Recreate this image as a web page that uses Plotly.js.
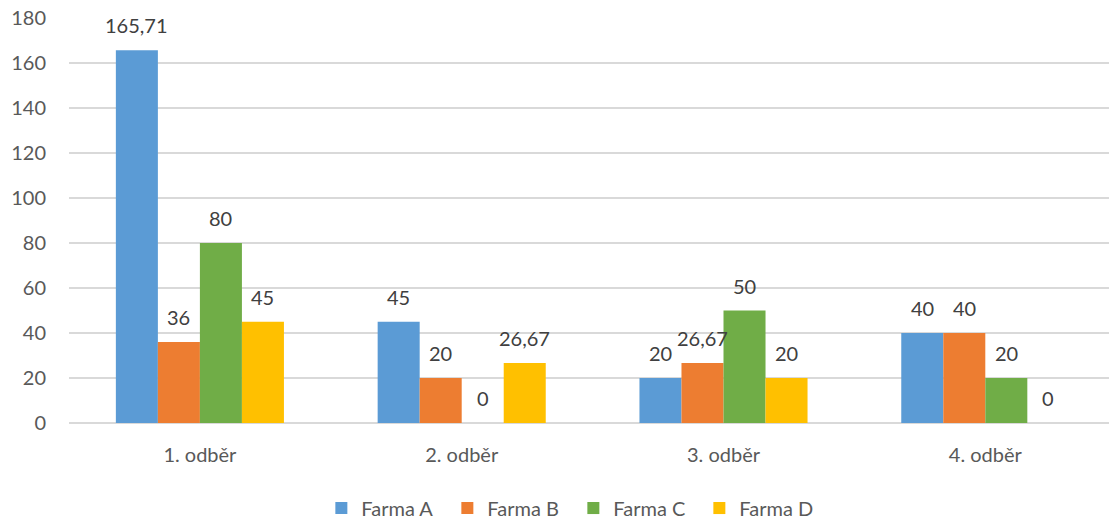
<!DOCTYPE html>
<html>
<head>
<meta charset="utf-8">
<script src="https://cdn.plot.ly/plotly-3.0.1.min.js"></script>
<style>
  html, body { margin: 0; padding: 0; background: #ffffff; }
  #chart { width: 1109px; height: 519px; }
</style>
</head>
<body>
<div id="chart"></div>
<script>
// Sampling rounds (odběry)
const categories = ['1. odběr', '2. odběr', '3. odběr', '4. odběr'];

// Values per farm
const farmaA = [165.71, 45, 20, 40];
const farmaB = [36, 20, 26.67, 40];
const farmaC = [80, 0, 50, 20];
const farmaD = [45, 26.67, 20, 0];

const seriesNames = ['Farma A', 'Farma B', 'Farma C', 'Farma D'];
const seriesValues = [farmaA, farmaB, farmaC, farmaD];
const seriesColors = ['#5B9BD5', '#ED7D31', '#70AD47', '#FFC000'];

const yTicks = [0, 20, 40, 60, 80, 100, 120, 140, 160, 180];

const FONT = 'Lato, "Open Sans", "DejaVu Sans", sans-serif';
const FS = 20;
const BARGAP = 0.358;
const nSeries = seriesValues.length;
const barW = (1 - BARGAP) / nSeries;

const fmt = v => String(Math.round(v * 100) / 100).replace('.', ',');

const traces = seriesValues.map((vals, j) => ({
  type: 'bar',
  name: seriesNames[j],
  x: categories,
  y: vals,
  marker: { color: seriesColors[j], line: { width: 0 } },
  hoverinfo: 'skip'
}));

// Value labels above each bar
const annotations = [];
seriesValues.forEach((vals, j) => {
  vals.forEach((v, i) => {
    annotations.push({
      x: i + (j - (nSeries - 1) / 2) * barW,
      y: v,
      xref: 'x', yref: 'y',
      text: fmt(v),
      showarrow: false,
      yanchor: 'middle',
      yshift: 25,
      font: { family: FONT, size: FS, color: '#404040' }
    });
  });
});

const layout = {
  width: 1109,
  height: 519,
  margin: { l: 69, r: 0, t: 18, b: 96, autoexpand: false },
  paper_bgcolor: '#ffffff',
  plot_bgcolor: '#ffffff',
  barmode: 'group',
  bargap: BARGAP,
  bargroupgap: 0,
  separators: ',.',
  font: { family: FONT, size: FS, color: '#595959' },
  xaxis: {
    type: 'category',
    range: [-0.5, 3.4725],
    showgrid: false,
    zeroline: false,
    showline: false,
    ticks: '',
    tickfont: { family: FONT, size: FS, color: '#595959' },
    ticklabelstandoff: 18,
    fixedrange: true
  },
  yaxis: {
    range: [0, 180],
    tickvals: yTicks,
    ticktext: yTicks.map(String),
    showgrid: true,
    gridcolor: '#D9D9D9',
    gridwidth: 1.5,
    zeroline: true,
    zerolinecolor: '#D9D9D9',
    zerolinewidth: 1.5,
    showline: false,
    ticks: '',
    tickfont: { family: FONT, size: FS, color: '#595959' },
    ticklabelstandoff: 22,
    fixedrange: true
  },
  showlegend: true,
  legend: {
    orientation: 'h',
    xref: 'container',
    yref: 'paper',
    x: 0.517,
    xanchor: 'center',
    y: -0.21,
    yanchor: 'middle',
    entrywidth: 81,
    entrywidthmode: 'pixels',
    font: { family: FONT, size: FS, color: '#595959' },
    traceorder: 'normal',
    itemclick: false,
    itemdoubleclick: false
  },
  annotations: annotations
};

Plotly.newPlot('chart', traces, layout, { staticPlot: true, displayModeBar: false });
</script>
</body>
</html>
